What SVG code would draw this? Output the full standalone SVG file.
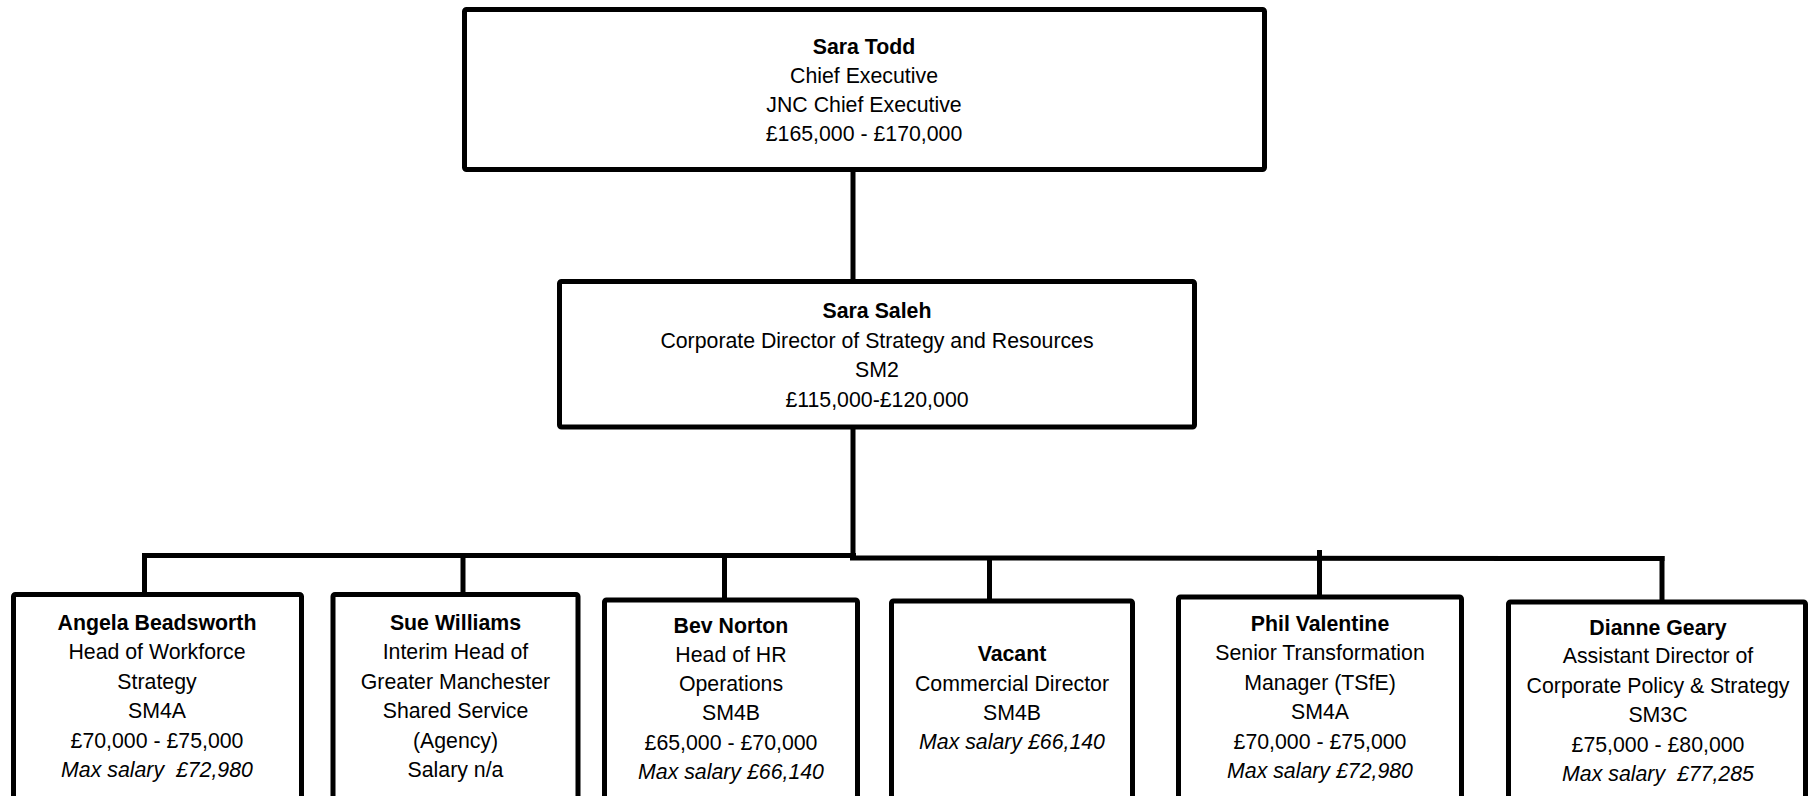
<svg xmlns="http://www.w3.org/2000/svg" width="1810" height="796" viewBox="0 0 1810 796">
<style>
.box{fill:#fff;stroke:#000;stroke-width:5;}
.ln{fill:none;stroke:#000;stroke-width:5;stroke-linecap:butt;}
text{font-family:"Liberation Sans",Arial,sans-serif;font-size:21.3px;fill:#000;text-anchor:middle;}
.b{font-weight:bold;}
.i{font-style:italic;white-space:pre;}
</style>
<rect width="1810" height="796" fill="#fff"/>
<g id="connectors">
<line class="ln" x1="853" y1="170" x2="853" y2="281"/>
<line class="ln" x1="853" y1="427" x2="853" y2="558"/>
<line class="ln" x1="142" y1="555.5" x2="856" y2="555.5"/>
<line class="ln" x1="850" y1="558" x2="1664.5" y2="558.5"/>
<line class="ln" x1="144.5" y1="553" x2="144.5" y2="595"/>
<line class="ln" x1="463" y1="553" x2="463" y2="595"/>
<line class="ln" x1="724.5" y1="553" x2="724.5" y2="600"/>
<line class="ln" x1="989.5" y1="556" x2="989.5" y2="601"/>
<line class="ln" x1="1319.5" y1="550" x2="1319.5" y2="597"/>
<line class="ln" x1="1662" y1="556" x2="1662" y2="602"/>
</g>
<g id="n-sara-todd">
<rect class="box" x="464.5" y="9.5" width="800" height="160" rx="2"/>
<text x="864" y="53.5" class="b">Sara Todd</text>
<text x="864" y="82.5">Chief Executive</text>
<text x="864" y="111.5">JNC Chief Executive</text>
<text x="864" y="140.5">£165,000 - £170,000</text>
</g>
<g id="n-sara-saleh">
<rect class="box" x="559.5" y="281.5" width="635" height="145.5" rx="2"/>
<text x="877" y="318" class="b">Sara Saleh</text>
<text x="877" y="348">Corporate Director of Strategy and Resources</text>
<text x="877" y="377">SM2</text>
<text x="877" y="407">£115,000-£120,000</text>
</g>
<g id="n-angela">
<rect class="box" x="13.5" y="594.5" width="288" height="240" rx="2"/>
<text x="157" y="629.5" class="b">Angela Beadsworth</text>
<text x="157" y="659">Head of Workforce</text>
<text x="157" y="688.5">Strategy</text>
<text x="157" y="717.5">SM4A</text>
<text x="157" y="747.5">£70,000 - £75,000</text>
<text x="157" y="776.5" class="i">Max salary  £72,980</text>
</g>
<g id="n-sue">
<rect class="box" x="333" y="594.5" width="245" height="240" rx="2"/>
<text x="455.5" y="629.5" class="b">Sue Williams</text>
<text x="455.5" y="659">Interim Head of</text>
<text x="455.5" y="688.5">Greater Manchester</text>
<text x="455.5" y="717.5">Shared Service</text>
<text x="455.5" y="747.5">(Agency)</text>
<text x="455.5" y="776.5">Salary n/a</text>
</g>
<g id="n-bev">
<rect class="box" x="604.5" y="600" width="253" height="240" rx="2"/>
<text x="731" y="633" class="b">Bev Norton</text>
<text x="731" y="662">Head of HR</text>
<text x="731" y="691">Operations</text>
<text x="731" y="720">SM4B</text>
<text x="731" y="749.5">£65,000 - £70,000</text>
<text x="731" y="778.5" class="i">Max salary £66,140</text>
</g>
<g id="n-vacant">
<rect class="box" x="891.5" y="601" width="241" height="240" rx="2"/>
<text x="1012" y="661" class="b">Vacant</text>
<text x="1012" y="691">Commercial Director</text>
<text x="1012" y="720">SM4B</text>
<text x="1012" y="748.5" class="i">Max salary £66,140</text>
</g>
<g id="n-phil">
<rect class="box" x="1178.5" y="597" width="283" height="240" rx="2"/>
<text x="1320" y="631" class="b">Phil Valentine</text>
<text x="1320" y="660">Senior Transformation</text>
<text x="1320" y="689.5">Manager (TSfE)</text>
<text x="1320" y="718.5">SM4A</text>
<text x="1320" y="748.5">£70,000 - £75,000</text>
<text x="1320" y="777.5" class="i">Max salary £72,980</text>
</g>
<g id="n-dianne">
<rect class="box" x="1508.5" y="602" width="297" height="240" rx="2"/>
<text x="1658" y="634.5" class="b">Dianne Geary</text>
<text x="1658" y="663">Assistant Director of</text>
<text x="1658" y="693">Corporate Policy &amp; Strategy</text>
<text x="1658" y="722">SM3C</text>
<text x="1658" y="752">£75,000 - £80,000</text>
<text x="1658" y="781" class="i">Max salary  £77,285</text>
</g>
</svg>
